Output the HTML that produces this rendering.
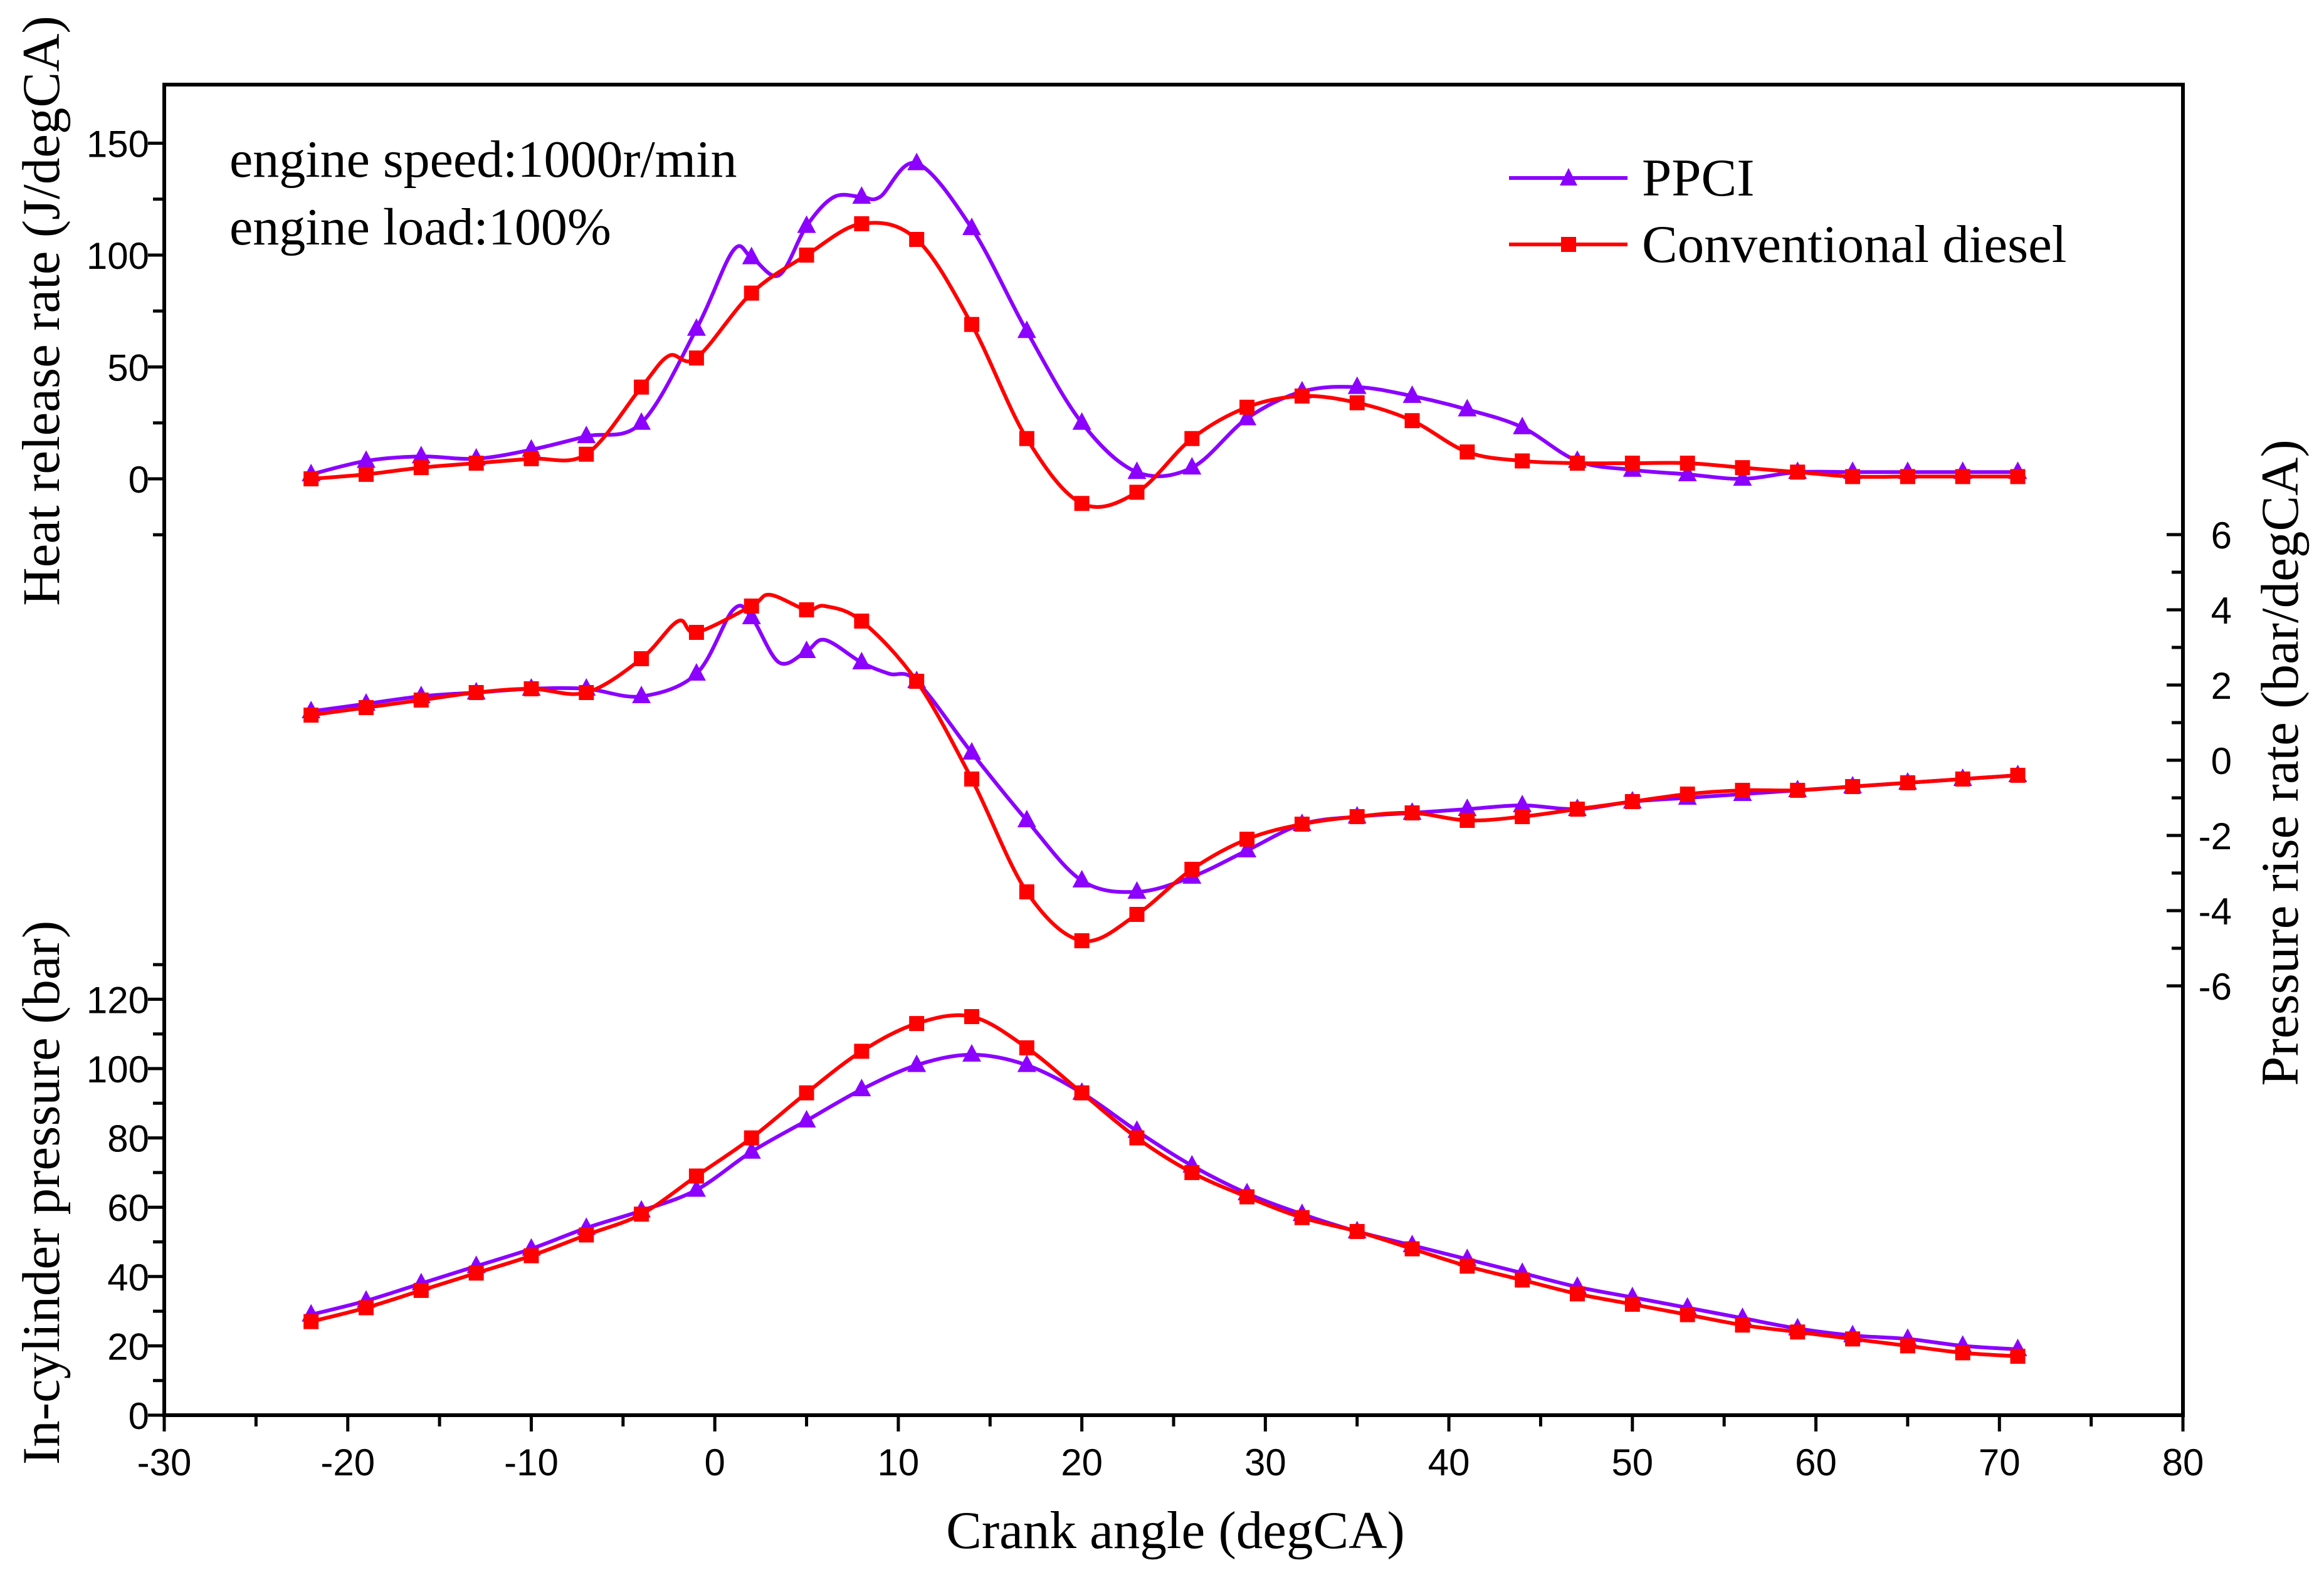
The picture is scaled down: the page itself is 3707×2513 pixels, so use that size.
<!DOCTYPE html>
<html><head><meta charset="utf-8"><style>
html,body{margin:0;padding:0;background:#fff;}
svg{display:block;}
.tick{font-family:"Liberation Sans",Arial,sans-serif;font-size:60px;fill:#000;}
.serif{font-family:"Liberation Serif","Times New Roman",serif;fill:#000;}
</style></head><body>
<svg id="chart" width="3707" height="2513" viewBox="0 0 3707 2513" xmlns="http://www.w3.org/2000/svg">
<rect width="3707" height="2513" fill="#fff"/>
<g id="axes"></g>
<g id="series"></g>
<text class="serif" x="366" y="282" font-size="84">engine speed:1000r/min</text>
<text class="serif" x="366" y="390" font-size="84">engine load:100%</text>
<g>
<line x1="2407" y1="284" x2="2596" y2="284" stroke="#8b00ff" stroke-width="6"/>
<polygon points="2502,268 2516,296 2488,296" fill="#8b00ff"/>
<text class="serif" x="2619" y="312" font-size="85">PPCI</text>
<line x1="2407" y1="390" x2="2596" y2="390" stroke="#ff0000" stroke-width="6"/>
<rect x="2490" y="378" width="24" height="24" fill="#ff0000"/>
<text class="serif" x="2619" y="418" font-size="85">Conventional diesel</text>
</g>
<text class="serif" font-size="85" text-anchor="middle" transform="translate(94,496) rotate(-90)">Heat release rate (J/degCA)</text>
<text class="serif" font-size="85" text-anchor="middle" transform="translate(94,1903) rotate(-90)">In-cylinder pressure (bar)</text>
<text class="serif" font-size="85" text-anchor="middle" transform="translate(3665,1217) rotate(-90)">Pressure rise rate (bar/degCA)</text>
<text class="serif" font-size="85" text-anchor="middle" x="1875" y="2470">Crank angle (degCA)</text>
</svg>
<script>
const angles=[-22,-19,-16,-13,-10,-7,-4,-1,2,5,8,11,14,17,20,23,26,29,32,35,38,41,44,47,50,53,56,59,62,65,68,71];
const hrrPPCI=[2,8,10,9,13,19,25,67,99,113,126,141,112,66,25,3,5,27,39,41,37,31,23,8,4,2,0,3,3,3,3,3];
const hrrDiesel=[0,2,5,7,9,11,41,54,83,100,114,107,69,18,-11,-6,18,32,37,34,26,12,8,7,7,7,5,3,1,1,1,1];
const prrPPCI=[1.3,1.5,1.7,1.8,1.9,1.9,1.7,2.3,3.8,2.9,2.6,2.1,0.2,-1.6,-3.2,-3.5,-3.1,-2.4,-1.7,-1.5,-1.4,-1.3,-1.2,-1.3,-1.1,-1.0,-0.9,-0.8,-0.7,-0.6,-0.5,-0.4];
const prrDiesel=[1.2,1.4,1.6,1.8,1.9,1.8,2.7,3.4,4.1,4.0,3.7,2.1,-0.5,-3.5,-4.8,-4.1,-2.9,-2.1,-1.7,-1.5,-1.4,-1.6,-1.5,-1.3,-1.1,-0.9,-0.8,-0.8,-0.7,-0.6,-0.5,-0.4];
const pPPCI=[29,33,38,43,48,54,59,65,76,85,94,101,104,101,93,82,72,64,58,53,49,45,41,37,34,31,28,25,23,22,20,19];
const pDiesel=[27,31,36,41,46,52,58,69,80,93,105,113,115,106,93,80,70,63,57,53,48,43,39,35,32,29,26,24,22,20,18,17];
// extra unmarked curve points
const hrrPPCIExtraX=[1,3.5,6.5,9];
const hrrPPCIExtraY=[102,91,126,126];
const hrrDieselExtraX=[-2.5];
const hrrDieselExtraY=[55];
const prrPPCIExtraX=[1,3.5,6,9.5];
const prrPPCIExtraY=[4.0,2.6,3.2,2.3];
const prrDieselExtraX=[-2,3,6];
const prrDieselExtraY=[3.7,4.4,4.1];
const xTicks=[-30,-20,-10,0,10,20,30,40,50,60,70,80];
const hrrTicks=[0,50,100,150];
const pTicks=[0,20,40,60,80,100,120];
const prrTicks=[-6,-4,-2,0,2,4,6];

const NS="http://www.w3.org/2000/svg";
const L=262,R=3482,T=135,B=2258;
const X=v=>L+(v+30)*(R-L)/110;
const YH=v=>764-v*3.57;
const YP=v=>2258-v*5.53;
const YR=v=>1213-v*60.0;
const PUR="#8b00ff",RED="#ff0000";
const axes=document.getElementById('axes'),series=document.getElementById('series');
function mk(tag,attrs,parent){const e=document.createElementNS(NS,tag);for(const k in attrs)e.setAttribute(k,attrs[k]);parent.appendChild(e);return e;}

const frame=mk('rect',{x:L,y:T,width:R-L,height:B-T,fill:'none',stroke:'#000','stroke-width':6},axes);


for(let v=-30;v<=80;v+=5){
  const major=v%10===0;
  const t=mk('line',{x1:X(v),x2:X(v),y1:B,y2:B+(major?26:18),stroke:'#000','stroke-width':5},axes);
  
  
}
xTicks.forEach(v=>{
  const t=mk('text',{x:X(v),y:2354,'text-anchor':'middle',class:'tick'},axes);t.textContent=v;
  
  
});
for(let v=-25;v<=150;v+=25){
  const major=v%50===0&&v>=0;
  const t=mk('line',{x1:L-(major?26:18),x2:L,y1:YH(v),y2:YH(v),stroke:'#000','stroke-width':5},axes);
  
  
}
hrrTicks.forEach(v=>{
  const t=mk('text',{x:238,y:YH(v)+22,'text-anchor':'end',class:'tick'},axes);t.textContent=v;
  
  
});
for(let v=0;v<=130;v+=10){
  const major=v%20===0;
  const t=mk('line',{x1:L-(major?26:18),x2:L,y1:YP(v),y2:YP(v),stroke:'#000','stroke-width':5},axes);
  
  
}
pTicks.forEach(v=>{
  const t=mk('text',{x:238,y:YP(v)+22,'text-anchor':'end',class:'tick'},axes);t.textContent=v;
  
  
});
for(let v=-6;v<=6;v+=1){
  const major=v%2===0;
  const t=mk('line',{x1:R-(major?26:18),x2:R,y1:YR(v),y2:YR(v),stroke:'#000','stroke-width':5},axes);
  
  
}
prrTicks.forEach(v=>{
  const t=mk('text',{x:3560,y:YR(v)+22,'text-anchor':'end',class:'tick'},axes);t.textContent=v;
  
  
});

function smoothPath(pts){
  let d=`M${pts[0][0]},${pts[0][1]}`;
  for(let i=0;i<pts.length-1;i++){
    const p0=pts[Math.max(i-1,0)],p1=pts[i],p2=pts[i+1],p3=pts[Math.min(i+2,pts.length-1)];
    const c1=[p1[0]+(p2[0]-p0[0])/6,p1[1]+(p2[1]-p0[1])/6];
    const c2=[p2[0]-(p3[0]-p1[0])/6,p2[1]-(p3[1]-p1[1])/6];
    d+=` C${c1[0]},${c1[1]} ${c2[0]},${c2[1]} ${p2[0]},${p2[1]}`;
  }
  return d;
}
function drawSeries(name,ys,ex,ey,Y,color,marker){
  const pts=angles.map((a,i)=>[a,ys[i]]);
  ex.forEach((a,i)=>pts.push([a,ey[i]]));
  pts.sort((p,q)=>p[0]-q[0]);
  const pp=pts.map(p=>[X(p[0]),Y(p[1])]);
  const line=mk('path',{d:smoothPath(pp),fill:'none',stroke:color,'stroke-width':6,'stroke-linejoin':'round'},series);
  
  
  angles.forEach((a,i)=>{
    const cx=X(a),cy=Y(ys[i]);
    let m;
    if(marker==='tri') m=mk('polygon',{points:`${cx},${cy-17} ${cx+15},${cy+11} ${cx-15},${cy+11}`,fill:color},series);
    else m=mk('rect',{x:cx-12,y:cy-12,width:24,height:24,fill:color},series);
    
    
  });
}
drawSeries('hrr-ppci',hrrPPCI,hrrPPCIExtraX,hrrPPCIExtraY,YH,PUR,'tri');
drawSeries('hrr-diesel',hrrDiesel,hrrDieselExtraX,hrrDieselExtraY,YH,RED,'sq');
drawSeries('prr-ppci',prrPPCI,prrPPCIExtraX,prrPPCIExtraY,YR,PUR,'tri');
drawSeries('prr-diesel',prrDiesel,prrDieselExtraX,prrDieselExtraY,YR,RED,'sq');
drawSeries('pressure-ppci',pPPCI,[],[],YP,PUR,'tri');
drawSeries('pressure-diesel',pDiesel,[],[],YP,RED,'sq');
</script>
</body></html>
